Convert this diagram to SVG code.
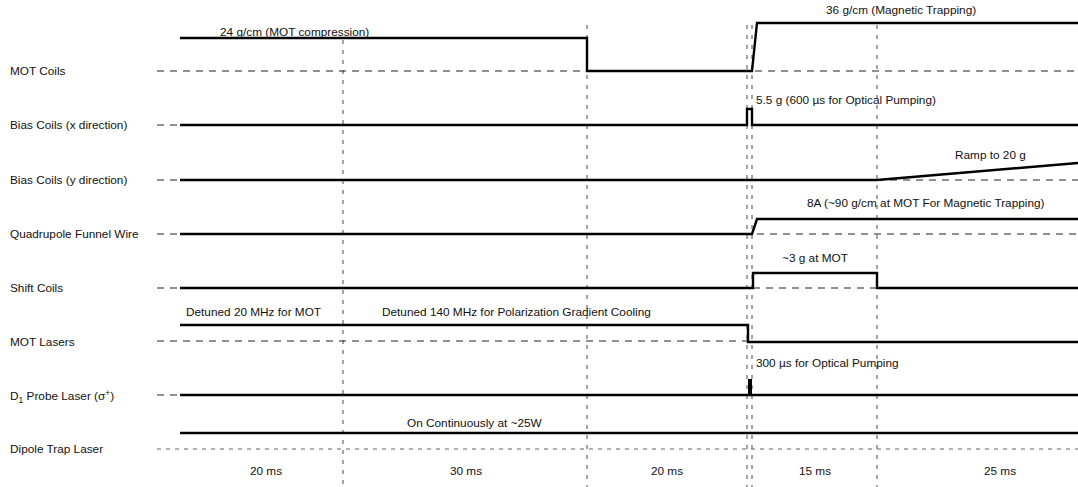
<svg xmlns="http://www.w3.org/2000/svg" width="1078" height="487" viewBox="0 0 1078 487">
<style>
text{font-family:"Liberation Sans",Arial,sans-serif;font-size:11.8px;fill:#111}
.sig{fill:none;stroke:#000;stroke-width:2.4;stroke-linejoin:miter}
.base{fill:none;stroke:#222;stroke-width:1.2;stroke-dasharray:7 6}
.dot{fill:none;stroke:#666;stroke-width:1.1;stroke-dasharray:4 5}
.grid{fill:none;stroke:#333;stroke-width:0.9;stroke-dasharray:4 6}
</style>
<rect width="1078" height="487" fill="#fff"/>
<g id="grid">
<line class="grid" x1="343" y1="40" x2="343" y2="487"/>
<line class="grid" x1="587" y1="25" x2="587" y2="487"/>
<line class="grid" x1="747" y1="25" x2="747" y2="487"/>
<line class="grid" x1="752" y1="25" x2="752" y2="487"/>
<line class="grid" x1="877" y1="25" x2="877" y2="487"/>
</g>
<g id="baselines">
<line class="base" x1="157" y1="71" x2="1078" y2="71"/>
<line class="base" x1="157" y1="125" x2="180" y2="125"/>
<line class="base" x1="157" y1="180" x2="180" y2="180"/>
<line class="base" x1="877" y1="180" x2="1078" y2="180"/>
<line class="base" x1="157" y1="234" x2="180" y2="234"/>
<line class="base" x1="757" y1="234" x2="1078" y2="234"/>
<line class="base" x1="157" y1="288" x2="180" y2="288"/>
<line class="base" x1="753" y1="288" x2="877" y2="288"/>
<line class="base" x1="157" y1="341" x2="748" y2="341"/>
<line class="base" x1="157" y1="395" x2="180" y2="395"/>
<line class="dot" x1="157" y1="449" x2="1078" y2="449"/>
</g>
<g id="mot-coils">
<text x="10" y="75">MOT Coils</text>
<path class="sig" d="M180,38 H587 V71 H752 L757,23 H1078"/>
<text x="220" y="36">24 g/cm (MOT compression)</text>
<text x="826" y="14">36 g/cm (Magnetic Trapping)</text>
</g>
<g id="bias-x">
<text x="10" y="129">Bias Coils (x direction)</text>
<path class="sig" d="M180,125 H747 V109 H752 V125 H1078"/>
<text x="756" y="104">5.5 g (600 µs for Optical Pumping)</text>
</g>
<g id="bias-y">
<text x="10" y="184">Bias Coils (y direction)</text>
<path class="sig" d="M180,180 H877 L1078,163"/>
<text x="955" y="159">Ramp to 20 g</text>
</g>
<g id="quad">
<text x="10" y="238">Quadrupole Funnel Wire</text>
<path class="sig" d="M180,234 H752 L757,219 H1078"/>
<text x="807" y="207">8A (~90 g/cm at MOT For Magnetic Trapping)</text>
</g>
<g id="shift">
<text x="10" y="292">Shift Coils</text>
<path class="sig" d="M180,288 H753 V273 H877 V288 H1078"/>
<text x="782" y="262">~3 g at MOT</text>
</g>
<g id="mot-lasers">
<text x="10" y="346">MOT Lasers</text>
<path class="sig" d="M180,325 H748 V342 H1078"/>
<text x="186" y="316">Detuned 20 MHz for MOT</text>
<text x="382" y="316">Detuned 140 MHz for Polarization Gradient Cooling</text>
</g>
<g id="d1-probe">
<text x="10" y="400">D<tspan font-size="8.5" dy="3">1</tspan><tspan dy="-3"> Probe Laser (σ</tspan><tspan font-size="8.5" dy="-4">+</tspan><tspan dy="4">)</tspan></text>
<path class="sig" d="M180,395 H1078"/>
<rect x="748" y="379" width="4" height="16" fill="#000"/>
<text x="756" y="367">300 µs for Optical Pumping</text>
</g>
<g id="dipole">
<text x="10" y="453">Dipole Trap Laser</text>
<path class="sig" d="M180,433 H1078" stroke-width="2"/>
<text x="407" y="427">On Continuously at ~25W</text>
</g>
<g id="durations">
<text x="266" y="475" text-anchor="middle">20 ms</text>
<text x="466" y="475" text-anchor="middle">30 ms</text>
<text x="667" y="475" text-anchor="middle">20 ms</text>
<text x="815" y="475" text-anchor="middle">15 ms</text>
<text x="1000" y="475" text-anchor="middle">25 ms</text>
</g>
</svg>
